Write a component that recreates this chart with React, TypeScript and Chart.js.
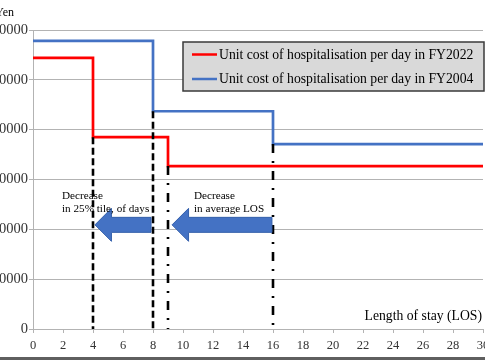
import React, { useEffect, useRef } from "react";
import { Chart, registerables } from "chart.js";

Chart.register(...registerables);

// ---- data ----
const seriesLabels = [
  "Unit cost of hospitalisation per day in FY2022",
  "Unit cost of hospitalisation per day in FY2004",
];
const losBreaksFY2022 = [0, 4, 9, 30];
const costFY2022 = [54400, 38500, 32700, 32700];
const losBreaksFY2004 = [0, 8, 16, 30];
const costFY2004 = [57800, 43700, 37100, 37100];

// vertical reference lines (day, top value)
const markerDays = [4, 8, 9, 16];
const markerTops = [38500, 43700, 32700, 37100];

// arrows (from tail day to tip day, at a value level)
const arrowTails = [7.87, 15.93];
const arrowTips = [4.13, 9.27];
const arrowLevel = 20900;

// annotation texts
const noteTexts = [
  ["Decrease", "in 25% tile, of days"],
  ["Decrease", "in average LOS"],
];
const noteDays = [1.93, 10.73];
const noteLevel = 26750;

const xAxisTitle = "Length of stay (LOS)";
const yAxisUnit = "Yen";
const yMin = 0;
const yMax = 60000;
const yStep = 10000;
const xMin = 0;
const xMax = 30;
const xStep = 2;

// ---- styles ----
const SERIF = "'Liberation Serif', 'Times New Roman', serif";
const markerDash = [[7, 3.5], [7, 3.5], [9, 8, 2, 8], [9, 8, 2, 8]];
const SHIFT = 40;
const CW = 485 + SHIFT + 20;
const CH = 360;

export default function App() {
  const ref = useRef<HTMLCanvasElement>(null);

  useEffect(() => {
    const canvas = ref.current!;
    const pts = (xs: number[], ys: number[]) => xs.map((x, i) => ({ x, y: ys[i] }));

    const markerSets = markerDays.map((d, i) => ({
      label: "",
      data: [
        { x: d, y: markerTops[i] },
        { x: d, y: 0 },
      ],
      borderColor: "#000000",
      borderWidth: 2.6,
      borderDash: markerDash[i],
      borderCapStyle: "butt" as const,
      pointRadius: 0,
      order: 0,
    }));

    const overlay = {
      id: "overlay",
      afterDatasetsDraw(chart: any) {
        const ctx = chart.ctx as CanvasRenderingContext2D;
        const a = chart.chartArea;
        const xs = chart.scales.x;
        const ys = chart.scales.y;
        ctx.save();

        // arrows
        arrowTails.forEach((tail, i) => {
          const x0 = xs.getPixelForValue(tail);
          const x1 = xs.getPixelForValue(arrowTips[i]);
          const yc = ys.getPixelForValue(arrowLevel);
          const bh = 7.5;
          const hh = 16.5;
          const hl = 16.5;
          ctx.beginPath();
          ctx.moveTo(x1, yc);
          ctx.lineTo(x1 + hl, yc - hh);
          ctx.lineTo(x1 + hl, yc - bh);
          ctx.lineTo(x0, yc - bh);
          ctx.lineTo(x0, yc + bh);
          ctx.lineTo(x1 + hl, yc + bh);
          ctx.lineTo(x1 + hl, yc + hh);
          ctx.closePath();
          ctx.fillStyle = "#4472C4";
          ctx.fill();
          ctx.strokeStyle = "#3560AC";
          ctx.lineWidth = 1;
          ctx.stroke();
        });

        // notes
        ctx.fillStyle = "#000000";
        ctx.font = `11.2px ${SERIF}`;
        ctx.textAlign = "left";
        ctx.textBaseline = "middle";
        noteTexts.forEach((lines, i) => {
          const x = xs.getPixelForValue(noteDays[i]);
          const y = ys.getPixelForValue(noteLevel);
          lines.forEach((t, j) => ctx.fillText(t, x, y + 0.5 + j * 12.7));
        });

        // legend
        const bx = a.left + 150;
        const by = a.top + 12;
        const bw = 301;
        const bh2 = 49;
        ctx.fillStyle = "#D9D9D9";
        ctx.fillRect(bx, by, bw, bh2);
        ctx.strokeStyle = "#3a3a3a";
        ctx.lineWidth = 1.5;
        ctx.strokeRect(bx, by, bw, bh2);
        const colors = ["#FF0000", "#4472C4"];
        const rowY = [by + 12.5, by + 37];
        ctx.font = `13.7px ${SERIF}`;
        seriesLabels.forEach((lab, i) => {
          ctx.strokeStyle = colors[i];
          ctx.lineWidth = 2.5;
          ctx.beginPath();
          ctx.moveTo(bx + 9, rowY[i]);
          ctx.lineTo(bx + 34, rowY[i]);
          ctx.stroke();
          ctx.fillStyle = "#000000";
          ctx.fillText(lab, bx + 36, rowY[i] + 0.5);
        });

        // axis title
        ctx.font = `13.7px ${SERIF}`;
        ctx.textAlign = "right";
        ctx.fillText(xAxisTitle, a.right - 1, a.bottom - 12.5);

        // unit
        ctx.font = `12px ${SERIF}`;
        ctx.fillText(yAxisUnit, a.left - 19, a.top - 17);

        // bottom frame line
        ctx.fillStyle = "#5f5f5f";
        ctx.fillRect(0, CH - 3, chart.width, 3);
        ctx.restore();
      },
    };

    const chart = new Chart(canvas, {
      type: "line",
      data: {
        datasets: [
          ...markerSets,
          {
            label: seriesLabels[0],
            data: pts(losBreaksFY2022, costFY2022),
            stepped: "before",
            borderColor: "#FF0000",
            borderWidth: 2.7,
            pointRadius: 0,
            order: 1,
          },
          {
            label: seriesLabels[1],
            data: pts(losBreaksFY2004, costFY2004),
            stepped: "before",
            borderColor: "#4472C4",
            borderWidth: 2.7,
            pointRadius: 0,
            order: 2,
          },
        ] as any,
      },
      options: {
        animation: false,
        responsive: false,
        devicePixelRatio: 1,
        layout: { padding: { top: 30, right: 22, left: 0, bottom: 0 } },
        plugins: { legend: { display: false }, tooltip: { enabled: false } },
        scales: {
          x: {
            type: "linear",
            min: xMin,
            max: xMax,
            ticks: {
              stepSize: xStep,
              color: "#333333",
              font: { family: SERIF, size: 12.5 },
              padding: 5,
              maxRotation: 0,
            },
            grid: {
              drawOnChartArea: false,
              drawTicks: true,
              tickLength: 4,
              color: "#b3b3b3",
            },
            border: { color: "#b3b3b3", width: 1 },
            afterFit(scale: any) {
              scale.height = 31;
            },
          },
          y: {
            type: "linear",
            min: yMin,
            max: yMax,
            ticks: {
              stepSize: yStep,
              color: "#333333",
              font: { family: SERIF, size: 14.5 },
              padding: 1,
              callback: (v: any) => String(v),
            },
            grid: {
              drawTicks: true,
              tickLength: 4,
              color: "#b3b3b3",
            },
            border: { color: "#b3b3b3", width: 1 },
            afterFit(scale: any) {
              scale.width = SHIFT + 33;
            },
          },
        },
      },
      plugins: [overlay],
    });
    return () => chart.destroy();
  }, []);

  return (
    <div
      style={{
        position: "fixed",
        left: 0,
        top: 0,
        width: 485,
        height: 360,
        overflow: "hidden",
        background: "#ffffff",
      }}
    >
      <canvas
        ref={ref}
        width={CW}
        height={CH}
        style={{ position: "absolute", left: -SHIFT, top: 0, width: CW, height: CH }}
      />
    </div>
  );
}
